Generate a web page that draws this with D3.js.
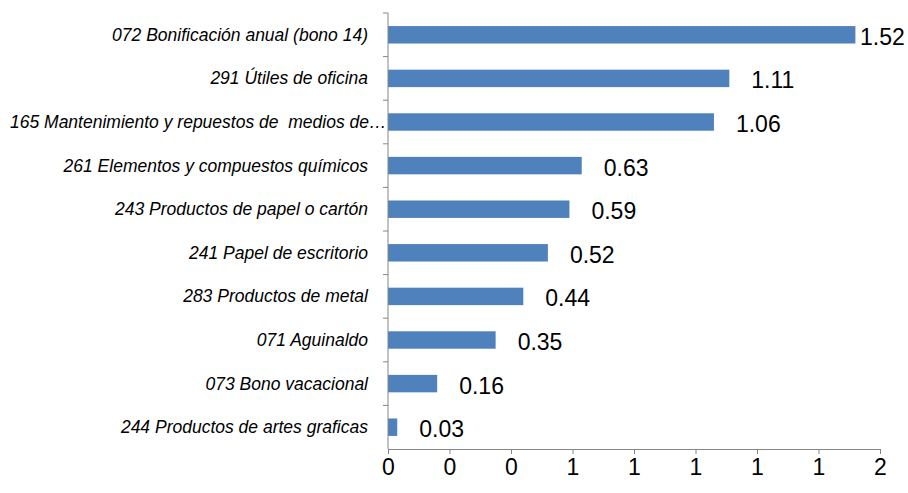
<!DOCTYPE html>
<html>
<head>
<meta charset="utf-8">
<script src="https://cdn.jsdelivr.net/npm/d3@7"></script>
<style>
  body { margin: 0; background: #fff; }
  svg { display: block; font-family: "Liberation Sans", Arial, sans-serif; }
</style>
</head>
<body>
<svg id="myGraph" width="908" height="493"></svg>
<script>
var svgWidth = 908;
var svgHeight = 493;

// categorias (de arriba hacia abajo)
var categories = [
  '072 Bonificación anual (bono 14)',
  '291 Útiles de oficina',
  '165 Mantenimiento y repuestos de  medios de…',
  '261 Elementos y compuestos químicos',
  '243 Productos de papel o cartón',
  '241 Papel de escritorio',
  '283 Productos de metal',
  '071 Aguinaldo',
  '073 Bono vacacional',
  '244 Productos de artes graficas'
];
var values = [1.52, 1.11, 1.06, 0.63, 0.59, 0.52, 0.44, 0.35, 0.16, 0.03];
var xMax = 1.6;

var margin = { top: 13, right: 28, bottom: 44, left: 388 };
var width = svgWidth - margin.left - margin.right;
var height = svgHeight - margin.top - margin.bottom;

var svg = d3.select('#myGraph');
var g = svg.append('g')
  .attr('transform', 'translate(' + margin.left + ',' + margin.top + ')');

var x = d3.scaleLinear().domain([0, xMax]).range([0, width]);
var y = d3.scaleBand().domain(categories).range([0, height]).paddingInner(0.6).paddingOuter(0.3);

// barras
g.selectAll('rect.bar')
  .data(values)
  .enter()
  .append('rect')
  .attr('class', 'bar')
  .attr('x', 0)
  .attr('y', function(d, i) { return y(categories[i]); })
  .attr('width', function(d) { return x(d); })
  .attr('height', y.bandwidth())
  .style('fill', '#4f81bd');

// etiquetas de valor
g.selectAll('text.val')
  .data(values)
  .enter()
  .append('text')
  .attr('class', 'val')
  .attr('x', function(d) {
    return Math.min(x(d) + 22, svgWidth - margin.left - 48);
  })
  .attr('y', function(d, i) { return y(categories[i]) + y.bandwidth() / 2 + 10; })
  .style('font-size', '23px')
  .style('fill', '#000')
  .text(function(d) { return d.toFixed(2); });

// eje Y: linea y marcas en los limites de cada banda
var step = y.step();
var yAxis = g.append('g').attr('class', 'y-axis');
yAxis.append('line')
  .attr('x1', 0).attr('x2', 0)
  .attr('y1', 0).attr('y2', height)
  .style('stroke', '#868686');
yAxis.selectAll('line.tick')
  .data(d3.range(categories.length))
  .enter()
  .append('line')
  .attr('class', 'tick')
  .attr('x1', -5).attr('x2', 0)
  .attr('y1', function(i) { return i * step; })
  .attr('y2', function(i) { return i * step; })
  .style('stroke', '#868686');

// etiquetas de categoria
yAxis.selectAll('text.cat')
  .data(categories)
  .enter()
  .append('text')
  .attr('class', 'cat')
  .attr('y', function(d) { return y(d) + y.bandwidth() / 2 + 6; })
  .style('font-size', '17.5px')
  .style('font-style', 'italic')
  .style('white-space', 'pre')
  .style('fill', '#000')
  .text(function(d) { return d; })
  .each(function() {
    var t = d3.select(this);
    var w = this.getComputedTextLength();
    if (w > margin.left - 30) {
      t.attr('x', 10 - margin.left).attr('text-anchor', 'start');
    } else {
      t.attr('x', -20).attr('text-anchor', 'end');
    }
  });

// eje X
var xAxis = g.append('g')
  .attr('transform', 'translate(0,' + height + ')')
  .call(d3.axisBottom(x).ticks(8).tickFormat(d3.format('.0f')).tickSizeOuter(0).tickSize(5));
xAxis.select('.domain').style('stroke', '#868686');
xAxis.selectAll('.tick line').style('stroke', '#868686');
xAxis.selectAll('.tick text')
  .attr('dy', '0.71em')
  .attr('y', 10)
  .style('font-size', '23px')
  .style('font-family', '"Liberation Sans", Arial, sans-serif')
  .style('fill', '#000');
</script>
</body>
</html>
